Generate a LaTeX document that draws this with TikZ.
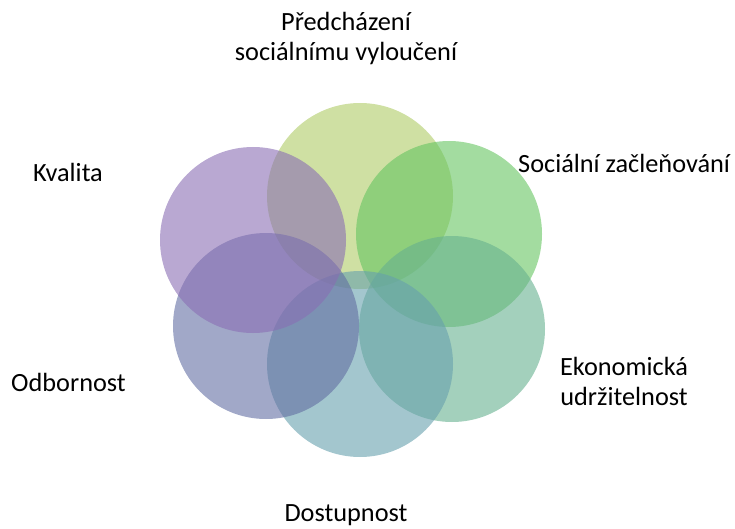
\documentclass[tikz,border=0pt]{standalone}
\usepackage{fontspec}
\setmainfont{Carlito}
\usepackage{tikz}
\definecolor{petalOlive}{RGB}{175,203,102}
\definecolor{petalGreen}{RGB}{102,197,97}
\definecolor{petalSea}{RGB}{102,177,143}
\definecolor{petalTeal}{RGB}{102,160,173}
\definecolor{petalBlue}{RGB}{98,110,163}
\definecolor{petalPurple}{RGB}{138,110,180}
\tikzset{petal/.style={circle, draw=none, fill opacity=0.6, minimum size=186pt, inner sep=0pt}}
\tikzset{caption/.style={inner sep=0pt, font=\fontsize{26.3}{30}\selectfont, align=center}}

\begin{document}
\begin{tikzpicture}[
	x=1pt,
	y=-1pt,
	]
	\useasboundingbox (0,0) rectangle (735,529);
	\node [petal, fill=petalOlive]  (prevent) at (360,196) {};
	\node [petal, fill=petalGreen]  (include) at (449,234) {};
	\node [petal, fill=petalSea]    (economy) at (452,329) {};
	\node [petal, fill=petalTeal]   (access)  at (360,364) {};
	\node [petal, fill=petalBlue]   (expert)  at (266,326) {};
	\node [petal, fill=petalPurple] (quality) at (253,240) {};
	
	\node [caption, anchor=north] (Lprevent) at (346,12) {Předcházení\\sociálnímu vyloučení};
	\node [caption, anchor=base west] (Linclude) at (518,173) {Sociální začleňování};
	\node [caption, anchor=north] (Leconomy) at (624,357) {Ekonomická\\udržitelnost};
	\node [caption, anchor=base] (Laccess) at (346,521) {Dostupnost};
	\node [caption, anchor=base west] (Lexpert) at (11,391) {Odbornost};
	\node [caption, anchor=base west] (Lquality) at (33,182) {Kvalita};
\end{tikzpicture}
\end{document}
